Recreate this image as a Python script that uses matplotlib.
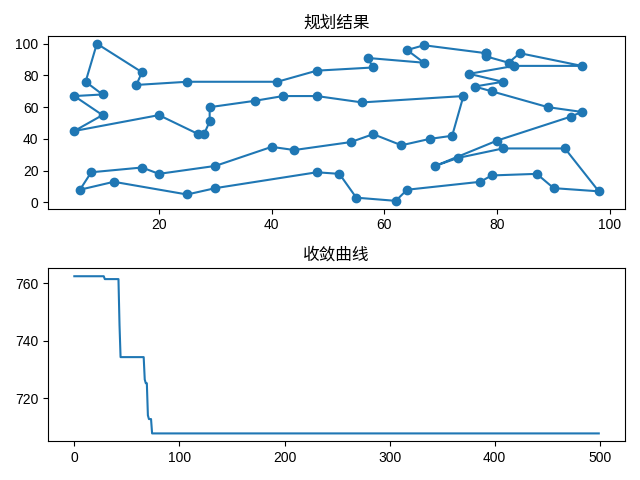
import numpy as np
import matplotlib
matplotlib.use("Agg")
import matplotlib.pyplot as plt

plt.rcParams['font.family'] = ['Liberation Sans', 'Noto Sans CJK SC']
plt.rcParams['axes.unicode_minus'] = False

# 路径上的城市坐标（按访问顺序）
route_x = [78, 78, 82, 84, 95, 83, 75, 81, 76, 79, 89, 95, 93, 80, 69, 73, 81, 92,
           98, 90, 87, 79, 77, 64, 62, 55, 52, 48, 30, 25, 12, 6, 8, 17, 20, 30,
           40, 44, 54, 58, 63, 68, 72, 74, 56, 48, 42, 37, 29, 29, 28, 27, 20, 5,
           10, 5, 10, 7, 9, 17, 16, 25, 41, 48, 58, 57, 67, 64, 67]
route_y = [94, 92, 88, 94, 86, 86, 81, 76, 73, 70, 60, 57, 54, 39, 23, 28, 34, 34,
           7, 9, 18, 17, 13, 8, 1, 3, 18, 19, 9, 5, 13, 8, 19, 22, 18, 23,
           35, 33, 38, 43, 36, 40, 42, 67, 63, 67, 67, 64, 60, 51, 43, 43, 55, 45,
           55, 67, 68, 76, 100, 82, 74, 76, 76, 83, 85, 91, 88, 96, 99]

# 收敛曲线：每段最优值及其持续的迭代次数
best_vals = [762.5, 761.5, 745.5, 734.3, 726.5, 725.2, 714.0, 712.7, 707.7]
seg_lens = [29, 14, 1, 23, 1, 2, 1, 3, 426]

cx = route_x + route_x[:1]
cy = route_y + route_y[:1]
conv = np.repeat(best_vals, seg_lens)

fig, (ax1, ax2) = plt.subplots(2, 1, figsize=(6.4, 4.8))

ax1.plot(cx, cy, 'o-', color='#1f77b4')
ax1.set_title('规划结果')

ax2.plot(np.arange(len(conv)), conv, color='#1f77b4')
ax2.set_title('收敛曲线')

plt.tight_layout()
fig.savefig('out.png', dpi=100)
plt.close(fig)
